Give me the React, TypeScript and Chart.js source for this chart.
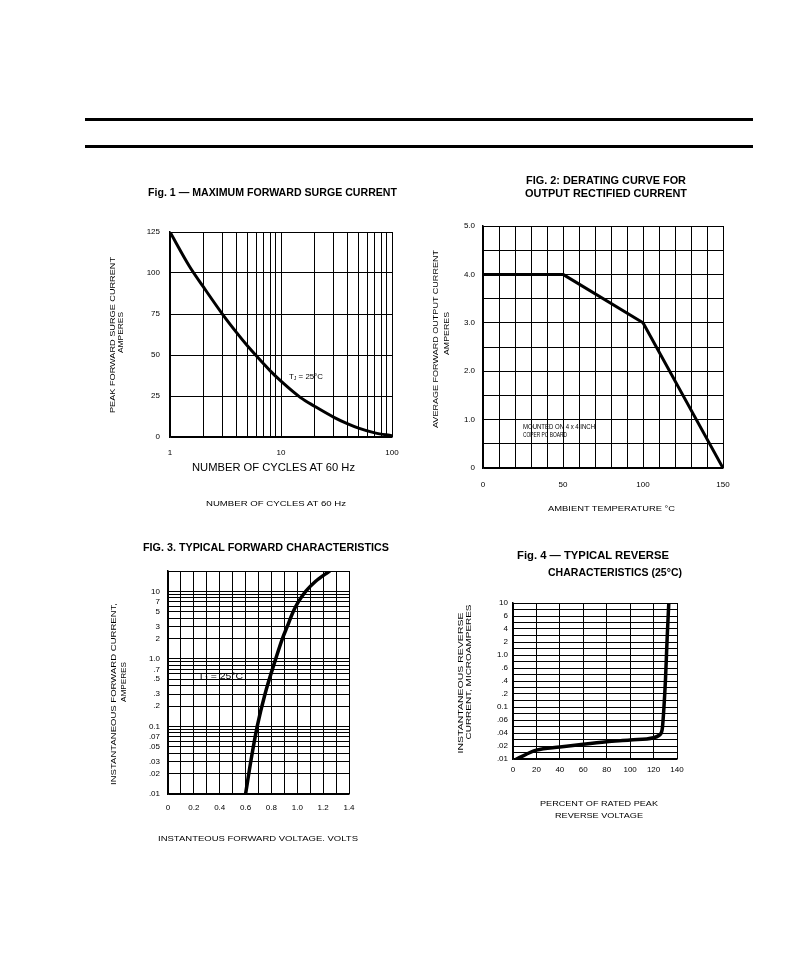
import React, { useEffect, useRef } from 'react';
import { Chart, registerables } from 'chart.js';

Chart.register(...registerables);

// ---------- Fig. 1: maximum forward surge current ----------
const fig1Cycles = [1, 1.5, 2, 3, 4, 5, 6, 7, 8, 10, 15, 20, 30, 40, 50, 70, 100];
const fig1Amps = [125, 104, 91.5, 74.5, 63.5, 55.5, 49.5, 44.5, 40.3, 34, 24, 18.8, 12, 8, 5.4, 2.5, 0.8];
const fig1XGrid = [1, 2, 3, 4, 5, 6, 7, 8, 9, 10, 20, 30, 40, 50, 60, 70, 80, 90, 100];
const fig1XLabels = ['1', '', '', '', '', '', '', '', '', '10', '', '', '', '', '', '', '', '', '100'];
const fig1YGrid = [0, 25, 50, 75, 100, 125];
const fig1YLabels = ['0', '25', '50', '75', '100', '125'];

// ---------- Fig. 2: derating curve ----------
const fig2Temp = [0, 50, 100, 150];
const fig2Amps = [4.0, 4.0, 3.0, 0];
const fig2XGrid = [0, 10, 20, 30, 40, 50, 60, 70, 80, 90, 100, 110, 120, 130, 140, 150];
const fig2XLabels = ['0', '', '', '', '', '50', '', '', '', '', '100', '', '', '', '', '150'];
const fig2YGrid = [0, 0.5, 1, 1.5, 2, 2.5, 3, 3.5, 4, 4.5, 5];
const fig2YLabels = ['0', '', '1.0', '', '2.0', '', '3.0', '', '4.0', '', '5.0'];

// ---------- Fig. 3: typical forward characteristics ----------
const fig3Volts = [0.6, 0.64, 0.69, 0.75, 0.833, 0.885, 0.922, 0.968, 1.008, 1.065, 1.14, 1.25];
const fig3Amps = [0.01, 0.03, 0.1, 0.3, 1, 2, 3, 5, 7, 10, 14, 20];
const fig3XGrid = [0, 0.1, 0.2, 0.3, 0.4, 0.5, 0.6, 0.7, 0.8, 0.9, 1.0, 1.1, 1.2, 1.3, 1.4];
const fig3XLabels = ['0', '', '0.2', '', '0.4', '', '0.6', '', '0.8', '', '1.0', '', '1.2', '', '1.4'];
const fig3YGrid = [
  0.01, 0.02, 0.03, 0.04, 0.05, 0.06, 0.07, 0.08, 0.09,
  0.1, 0.2, 0.3, 0.4, 0.5, 0.6, 0.7, 0.8, 0.9,
  1, 2, 3, 4, 5, 6, 7, 8, 9,
  10, 20,
];
const fig3YLabels = [
  '.01', '.02', '.03', '', '.05', '', '.07', '', '',
  '0.1', '.2', '.3', '', '.5', '', '.7', '', '',
  '1.0', '2', '3', '', '5', '', '7', '', '',
  '10', '',
];

// ---------- Fig. 4: typical reverse characteristics ----------
const fig4Percent = [3, 20, 40, 60, 80, 100, 120, 124.5, 127.3, 128.8, 130.2, 131.6, 133];
const fig4MicroAmps = [0.01, 0.016, 0.019, 0.022, 0.025, 0.0275, 0.031, 0.035, 0.044, 0.095, 0.43, 2.5, 10];
const fig4XGrid = [0, 20, 40, 60, 80, 100, 120, 140];
const fig4XLabels = ['0', '20', '40', '60', '80', '100', '120', '140'];
// the printed chart spaces these current values evenly
const fig4YValues = [0.01, 0.02, 0.04, 0.06, 0.1, 0.2, 0.4, 0.6, 1, 2, 4, 6, 10];
const fig4YLabels = ['.01', '.02', '.04', '.06', '0.1', '.2', '.4', '.6', '1.0', '2', '4', '6', '10'];

const FONT = '"Liberation Sans", Arial, Helvetica, sans-serif';

// position of a current value on the evenly spaced Fig. 4 axis
function fig4Pos(v: number): number {
  for (let i = 0; i < fig4YValues.length - 1; i++) {
    const a = fig4YValues[i];
    const b = fig4YValues[i + 1];
    if (v <= b || i === fig4YValues.length - 2) {
      return i + Math.log(v / a) / Math.log(b / a);
    }
  }
  return 0;
}

function makeAxis(
  type: string,
  min: number,
  max: number,
  grid: number[],
  labels: string[],
  isX: boolean,
  size: number,
  pad: number,
) {
  return {
    type,
    min,
    max,
    afterBuildTicks: (s: any) => {
      s.ticks = grid.map((v) => ({ value: v }));
    },
    afterFit: (s: any) => {
      if (isX) s.height = size;
      else s.width = size;
      s.paddingLeft = 0;
      s.paddingRight = 0;
      s.paddingTop = 0;
      s.paddingBottom = 0;
    },
    ticks: {
      autoSkip: false,
      maxRotation: 0,
      minRotation: 0,
      padding: pad,
      color: '#000',
      font: { family: FONT, size: 8 },
      callback: (_v: any, i: number) => labels[i] ?? '',
    },
    grid: { color: '#000', lineWidth: 1, drawTicks: false },
    border: { color: '#000', width: 1.5 },
  };
}

type Spec = {
  left: number;
  top: number;
  width: number;
  height: number;
  padTop: number;
  padRight: number;
  build: () => any;
};

function ChartBox({ spec }: { spec: Spec }) {
  const ref = useRef<HTMLCanvasElement | null>(null);
  useEffect(() => {
    if (!ref.current) return;
    const cfg = spec.build();
    cfg.options.layout = {
      autoPadding: false,
      padding: { left: 0, top: spec.padTop, right: spec.padRight, bottom: 0 },
    };
    const chart = new Chart(ref.current, cfg);
    return () => chart.destroy();
  }, []);
  return (
    <canvas
      ref={ref}
      width={spec.width}
      height={spec.height}
      style={{ position: 'absolute', left: spec.left, top: spec.top, width: spec.width, height: spec.height }}
    />
  );
}

function lineDataset(xs: number[], ys: number[], width: number, smooth: boolean) {
  return {
    data: xs.map((x, i) => ({ x, y: ys[i] })),
    borderColor: '#000',
    backgroundColor: '#000',
    borderWidth: width,
    pointRadius: 0,
    fill: false,
    cubicInterpolationMode: smooth ? 'monotone' : 'default',
    tension: 0,
    borderCapStyle: 'round',
    borderJoinStyle: 'round',
  };
}

function baseOptions(x: any, y: any) {
  return {
    responsive: false,
    maintainAspectRatio: false,
    animation: false,
    devicePixelRatio: 1,
    events: [],
    plugins: { legend: { display: false }, tooltip: { enabled: false }, title: { display: false } },
    scales: { x, y },
  };
}

const fig1: Spec = {
  left: 120, top: 222, width: 284, height: 245, padTop: 10, padRight: 12,
  build: () => ({
    type: 'line',
    data: { datasets: [lineDataset(fig1Cycles, fig1Amps, 3, true)] },
    options: baseOptions(
      makeAxis('logarithmic', 1, 100, fig1XGrid, fig1XLabels, true, 30, 11),
      makeAxis('linear', 0, 125, fig1YGrid, fig1YLabels, false, 50, 10),
    ),
  }),
};

const fig2: Spec = {
  left: 440, top: 216, width: 298, height: 282, padTop: 10, padRight: 15,
  build: () => ({
    type: 'line',
    data: { datasets: [lineDataset(fig2Temp, fig2Amps, 3, false)] },
    options: baseOptions(
      makeAxis('linear', 0, 150, fig2XGrid, fig2XLabels, true, 30, 12),
      makeAxis('linear', 0, 5, fig2YGrid, fig2YLabels, false, 43, 8),
    ),
  }),
};

const fig3: Spec = {
  left: 125, top: 561, width: 239, height: 263, padTop: 10, padRight: 15,
  build: () => ({
    type: 'line',
    data: { datasets: [lineDataset(fig3Volts, fig3Amps, 3.5, true)] },
    options: baseOptions(
      makeAxis('linear', 0, 1.4, fig3XGrid, fig3XLabels, true, 30, 9),
      makeAxis('logarithmic', 0.01, 20, fig3YGrid, fig3YLabels, false, 43, 8),
    ),
  }),
};

const fig4YGrid = fig4YValues.flatMap((_v, i) => (i < fig4YValues.length - 1 ? [i, i + 0.5] : [i]));
const fig4YGridLabels = fig4YGrid.map((p) => (Number.isInteger(p) ? fig4YLabels[p] : ''));

const fig4: Spec = {
  left: 475, top: 593, width: 217, height: 191, padTop: 10, padRight: 15,
  build: () => ({
    type: 'line',
    data: { datasets: [lineDataset(fig4Percent, fig4MicroAmps.map(fig4Pos), 3.5, true)] },
    options: baseOptions(
      makeAxis('linear', 0, 140, fig4XGrid, fig4XLabels, true, 25, 6),
      makeAxis('linear', 0, fig4YValues.length - 1, fig4YGrid, fig4YGridLabels, false, 38, 5),
    ),
  }),
};

type TP = {
  x: number;
  y: number;
  len: number;
  size: number;
  bold?: boolean;
  rot?: boolean;
  children: React.ReactNode;
};

function T({ x, y, len, size, bold, rot, children }: TP) {
  if (rot) {
    return (
      <text
        transform={`translate(${x},${y}) rotate(-90)`}
        x={0}
        y={0}
        textAnchor="middle"
        dominantBaseline="central"
        fontSize={size}
        fontWeight={bold ? 'bold' : 'normal'}
        textLength={len}
        lengthAdjust="spacingAndGlyphs"
      >
        {children}
      </text>
    );
  }
  return (
    <text
      x={x}
      y={y}
      dominantBaseline="central"
      fontSize={size}
      fontWeight={bold ? 'bold' : 'normal'}
      textLength={len}
      lengthAdjust="spacingAndGlyphs"
    >
      {children}
    </text>
  );
}

export default function App() {
  return (
    <div
      style={{
        position: 'absolute',
        left: 0,
        top: 0,
        width: 786,
        height: 976,
        background: '#fff',
        overflow: 'hidden',
        fontFamily: FONT,
      }}
    >
      <div style={{ position: 'absolute', left: 85, top: 118, width: 668, height: 3, background: '#000' }} />
      <div style={{ position: 'absolute', left: 85, top: 145, width: 668, height: 3, background: '#000' }} />

      <ChartBox spec={fig1} />
      <ChartBox spec={fig2} />
      <ChartBox spec={fig3} />
      <ChartBox spec={fig4} />

      <svg
        width={786}
        height={976}
        style={{ position: 'absolute', left: 0, top: 0, pointerEvents: 'none' }}
        fontFamily={FONT}
        fill="#000"
      >
        {/* Fig 1 */}
        <T x={148} y={192} len={249} size={10.5} bold>Fig. 1 — MAXIMUM FORWARD SURGE CURRENT</T>
        <T x={112.5} y={335} len={156} size={8} rot>PEAK FORWARD SURGE CURRENT</T>
        <T x={120.5} y={332.5} len={41} size={8} rot>AMPERES</T>
        <T x={192} y={467} len={163} size={11}>NUMBER OF CYCLES AT 60 Hz</T>
        <T x={206} y={503} len={140} size={8}>NUMBER OF CYCLES AT 60 Hz</T>
        <T x={289} y={376} len={34} size={7.5}>
          <tspan>T</tspan>
          <tspan fontSize={5} dy={2}>J</tspan>
          <tspan dy={-2}> = 25°C</tspan>
        </T>

        {/* Fig 2 */}
        <T x={526} y={180} len={160} size={10.5} bold>FIG. 2: DERATING CURVE FOR</T>
        <T x={525} y={193} len={162} size={10.5} bold>OUTPUT RECTIFIED CURRENT</T>
        <T x={435} y={339} len={178} size={8} rot>AVERAGE FORWARD OUTPUT CURRENT</T>
        <T x={446} y={333.5} len={43} size={8} rot>AMPERES</T>
        <T x={548} y={508} len={127} size={8}>AMBIENT TEMPERATURE °C</T>
        <T x={523} y={426} len={72} size={7.5}>MOUNTED ON 4 x 4 INCH</T>
        <T x={523} y={434} len={44} size={7.5}>COPER PC BOARD</T>

        {/* Fig 3 */}
        <T x={143} y={547} len={246} size={10.5} bold>FIG. 3. TYPICAL FORWARD CHARACTERISTICS</T>
        <T x={113} y={694} len={182} size={8} rot>INSTANTANEOUS FORWARD CURRENT,</T>
        <T x={123} y={682} len={40} size={8} rot>AMPERES</T>
        <T x={158} y={838} len={200} size={8}>INSTANTEOUS FORWARD VOLTAGE. VOLTS</T>
        <T x={198} y={676} len={45} size={8.5}>
          <tspan>T</tspan>
          <tspan fontSize={5.5} dy={2}>J</tspan>
          <tspan dy={-2}> = 25°C</tspan>
        </T>

        {/* Fig 4 */}
        <T x={517} y={555} len={152} size={10.5} bold>Fig. 4 — TYPICAL REVERSE</T>
        <T x={548} y={572} len={134} size={10.5} bold>CHARACTERISTICS (25°C)</T>
        <T x={460} y={683} len={141} size={8} rot>INSTANTANEOUS REVERSE</T>
        <T x={468} y={672} len={135} size={8} rot>CURRENT, MICROAMPERES</T>
        <T x={540} y={803} len={118} size={8}>PERCENT OF RATED PEAK</T>
        <T x={555} y={815} len={88} size={8}>REVERSE VOLTAGE</T>
      </svg>
    </div>
  );
}
